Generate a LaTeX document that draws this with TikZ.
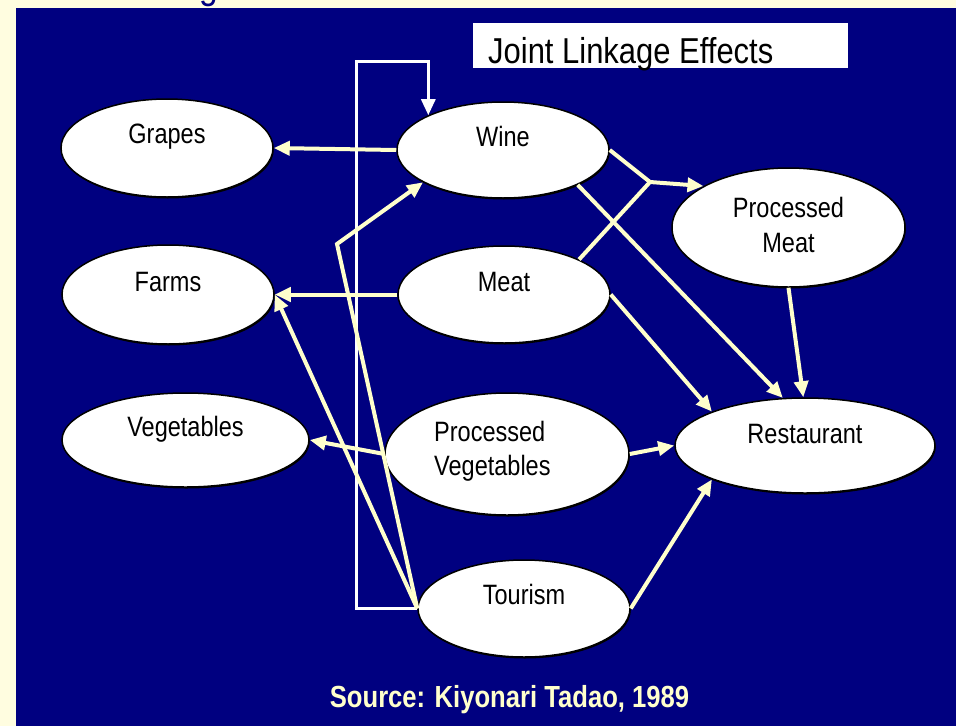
\documentclass[tikz,border=0pt]{standalone}
\usepackage{fontspec}
\setmainfont[FakeStretch=0.84]{Liberation Sans}
\newfontfamily\titlefont[FakeStretch=0.86]{Liberation Sans}
\usetikzlibrary{arrows.meta,shapes.geometric,shadows}
\definecolor{navy}{HTML}{000080}
\definecolor{pale}{HTML}{FFFDE0}
\definecolor{arrowy}{HTML}{FFFFCC}
\begin{document}
\begin{tikzpicture}[x=1pt,y=-1pt,
  blob/.style={ellipse, draw=black, line width=1.5pt, fill=white, inner sep=0pt,
    drop shadow={shadow xshift=0.8pt,shadow yshift=-1.5pt,opacity=1,fill=black}},
  lbl/.style={font=\fontsize{28}{32}\selectfont, text=black, inner sep=0pt},
  link/.style={draw=arrowy, line width=4pt, -{Triangle[length=16pt,width=14pt]}},
  plainlink/.style={draw=arrowy, line width=4pt},
  loopline/.style={draw=white, line width=3pt, -{Triangle[length=16pt,width=14pt]}}]
\useasboundingbox (0,0) rectangle (956,726);
\fill[pale] (0,0) rectangle (956,726);
\node[font=\fontsize{40}{44}\selectfont, text=navy, anchor=base, inner sep=0pt] (gpart) at (208.5,-2) {g};
\fill[navy] (16,8) rectangle (956,726);

% title
\node[fill=white, minimum width=375pt, minimum height=45pt, anchor=north west, inner sep=0pt] (titlebox) at (473,23) {};
\node[font=\titlefont\fontsize{36}{40}\selectfont, anchor=base west, inner sep=0pt] (title) at (488,63) {Joint Linkage Effects};

% ellipses
\node[blob, minimum width=212pt, minimum height=98pt] (grapes) at (167,148) {};
\node[blob, minimum width=212pt, minimum height=96pt] (wine) at (503,150) {};
\node[blob, minimum width=212pt, minimum height=99pt] (farms) at (168,294.5) {};
\node[blob, minimum width=212pt, minimum height=97pt] (meat) at (504,294.5) {};
\node[blob, minimum width=247pt, minimum height=94pt] (veg) at (185.5,440) {};
\node[blob, minimum width=244pt, minimum height=122pt] (pveg) at (507,454) {};
\node[blob, minimum width=233pt, minimum height=119pt] (pmeat) at (788.5,227.5) {};
\node[blob, minimum width=260pt, minimum height=95pt] (rest) at (805,445.5) {};
\node[blob, minimum width=212pt, minimum height=97pt] (tourism) at (524,608.5) {};

% labels
\node[lbl, anchor=base] (tgrapes) at ([yshift=5pt]grapes.center) {Grapes};
\node[lbl, anchor=base] (twine) at ([yshift=4pt]wine.center) {Wine};
\node[lbl, anchor=base] (tfarms) at ([yshift=3.5pt]farms.center) {Farms};
\node[lbl, anchor=base] (tmeat) at ([yshift=3.5pt]meat.center) {Meat};
\node[lbl, anchor=base] (tveg) at ([yshift=4pt]veg.center) {Vegetables};
\node[lbl, anchor=base west] (tpveg1) at ([xshift=-73pt,yshift=13pt]pveg.center) {Processed};
\node[lbl, anchor=base west] (tpveg2) at ([xshift=-73pt,yshift=-21pt]pveg.center) {Vegetables};
\node[lbl, anchor=base] (tpmeat1) at ([yshift=10.5pt]pmeat.center) {Processed};
\node[lbl, anchor=base] (tpmeat2) at ([yshift=-24.5pt]pmeat.center) {Meat};
\node[lbl, anchor=base] (trest) at ([yshift=2.5pt]rest.center) {Restaurant};
\node[lbl, anchor=base] (ttour) at ([yshift=4.5pt]tourism.center) {Tourism};

% coordinates
\coordinate (loopA) at (356,608.5);
\coordinate (loopB) at (356,61);
\coordinate (bendT) at (337,244);
\coordinate (J) at (650,182);

% white loop
\draw[loopline] (tourism.west) -- (loopA) -- (loopB) -| (wine.155);

% yellow links
\draw[link] (wine.west) -- (grapes.east);
\draw[link] (meat.west) -- (farms.east);
\draw[link] (pveg.west) -- (veg.east);
\draw[link] (tourism.west) -- (farms.east);
\draw[link] (tourism.west) -- (bendT) -- (wine.202);
\draw[plainlink] (wine.east) -- (J);
\draw[link] (meat.25) -- (J) -- (pmeat.154);
\draw[link] (wine.335) -- (rest.115);
\draw[link] (pmeat.south) -- (rest.92);
\draw[link] (meat.east) -- (rest.160);
\draw[link] (pveg.east) -- (rest.west);
\draw[link] (tourism.east) -- (rest.200);

% source
\node[font=\bfseries\fontsize{30.5}{34}\selectfont, text=arrowy, anchor=base, inner sep=0pt] (src) at (509.5,707) {Source: Kiyonari Tadao, 1989};
\end{tikzpicture}
\end{document}
